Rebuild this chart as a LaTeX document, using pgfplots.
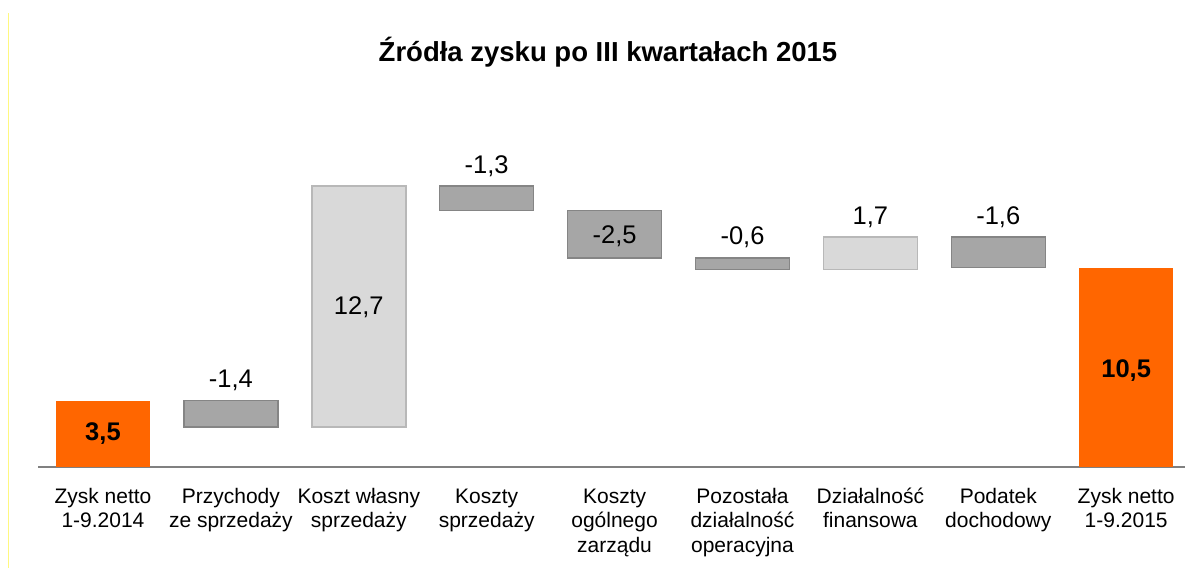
\documentclass[border=0pt]{standalone}
\usepackage{pgfplots}
\pgfplotsset{compat=1.18}
\usepackage{fontspec}
\setmainfont{Liberation Sans}
\definecolor{orng}{HTML}{FF6600}
\definecolor{dkfill}{HTML}{A6A6A6}
\definecolor{dkdraw}{HTML}{858585}
\definecolor{ltfill}{HTML}{D9D9D9}
\definecolor{ltdraw}{HTML}{B8B8B8}
\definecolor{axgray}{HTML}{808080}
\begin{document}
\begin{tikzpicture}[x=1pt,y=1pt]
\draw[yellow!50, line width=0.8pt] (8,0) -- (8,555);
\node[font=\fontsize{27.5}{32}\selectfont\bfseries] at (608,516) {Źródła zysku po III kwartałach 2015};
\begin{axis}[
  at={(38pt,101pt)}, anchor=south west,
  scale only axis, width=1147pt, height=456pt,
  xmin=-0.508, xmax=8.46, ymin=0, ymax=24,
  axis y line=none, axis x line*=bottom,
  x axis line style={-, draw=axgray, line width=1.5pt},
  xtick={0,1,2,3,4,5,6,7,8}, major tick length=0pt,
  xticklabels={
    {\strut Zysk netto\\1-9.2014},
    {\strut Przychody\\ze sprzedaży},
    {\strut Koszt własny\\sprzedaży},
    {\strut Koszty\\sprzedaży},
    {\strut Koszty\\ogólnego\\zarządu},
    {\strut Pozostała\\działalność\\operacyjna},
    {\strut Działalność\\finansowa},
    {\strut Podatek\\dochodowy},
    {\strut Zysk netto\\1-9.2015}},
  xticklabel style={align=center, anchor=north, inner sep=0pt, yshift=-19pt,
    font=\fontsize{21}{24.5}\selectfont},
  clip=false,
]
% orange totals
\addplot[fill=orng, draw=none] coordinates {(-0.3675,0) (0.3675,0) (0.3675,3.5) (-0.3675,3.5)} -- cycle;
\addplot[fill=orng, draw=none] coordinates {(7.6325,0) (8.3675,0) (8.3675,10.5) (7.6325,10.5)} -- cycle;
% light (positive)
\addplot[fill=ltfill, draw=ltdraw, line width=1.5pt] coordinates {(1.6325,2.1) (2.3675,2.1) (2.3675,14.8) (1.6325,14.8)} -- cycle;
\addplot[fill=ltfill, draw=ltdraw, line width=1.5pt] coordinates {(5.6325,10.4) (6.3675,10.4) (6.3675,12.1) (5.6325,12.1)} -- cycle;
% dark (negative)
\addplot[fill=dkfill, draw=dkdraw, line width=1.5pt] coordinates {(0.6325,2.1) (1.3675,2.1) (1.3675,3.5) (0.6325,3.5)} -- cycle;
\addplot[fill=dkfill, draw=dkdraw, line width=1.5pt] coordinates {(2.6325,13.5) (3.3675,13.5) (3.3675,14.8) (2.6325,14.8)} -- cycle;
\addplot[fill=dkfill, draw=dkdraw, line width=1.5pt] coordinates {(3.6325,11.0) (4.3675,11.0) (4.3675,13.5) (3.6325,13.5)} -- cycle;
\addplot[fill=dkfill, draw=dkdraw, line width=1.5pt] coordinates {(4.6325,10.4) (5.3675,10.4) (5.3675,11.0) (4.6325,11.0)} -- cycle;
\addplot[fill=dkfill, draw=dkdraw, line width=1.5pt] coordinates {(6.6325,10.5) (7.3675,10.5) (7.3675,12.1) (6.6325,12.1)} -- cycle;
% value labels
\begin{scope}[every node/.style={font=\fontsize{25.5}{30}\selectfont}]
\node[font=\fontsize{25.5}{30}\selectfont\bfseries] at (axis cs:0,1.75) {3,5};
\node[font=\fontsize{25.5}{30}\selectfont\bfseries] at (axis cs:8,5.05) {10,5};
\node at (axis cs:1,4.55) {-1,4};
\node at (axis cs:2,8.4) {12,7};
\node at (axis cs:3,15.85) {-1,3};
\node at (axis cs:4,12.15) {-2,5};
\node at (axis cs:5,12.1) {-0,6};
\node at (axis cs:6,13.15) {1,7};
\node at (axis cs:7,13.15) {-1,6};
\end{scope}
\end{axis}
\pgfresetboundingbox
\useasboundingbox (0,0) rectangle (1185,568);
\end{tikzpicture}
\end{document}
